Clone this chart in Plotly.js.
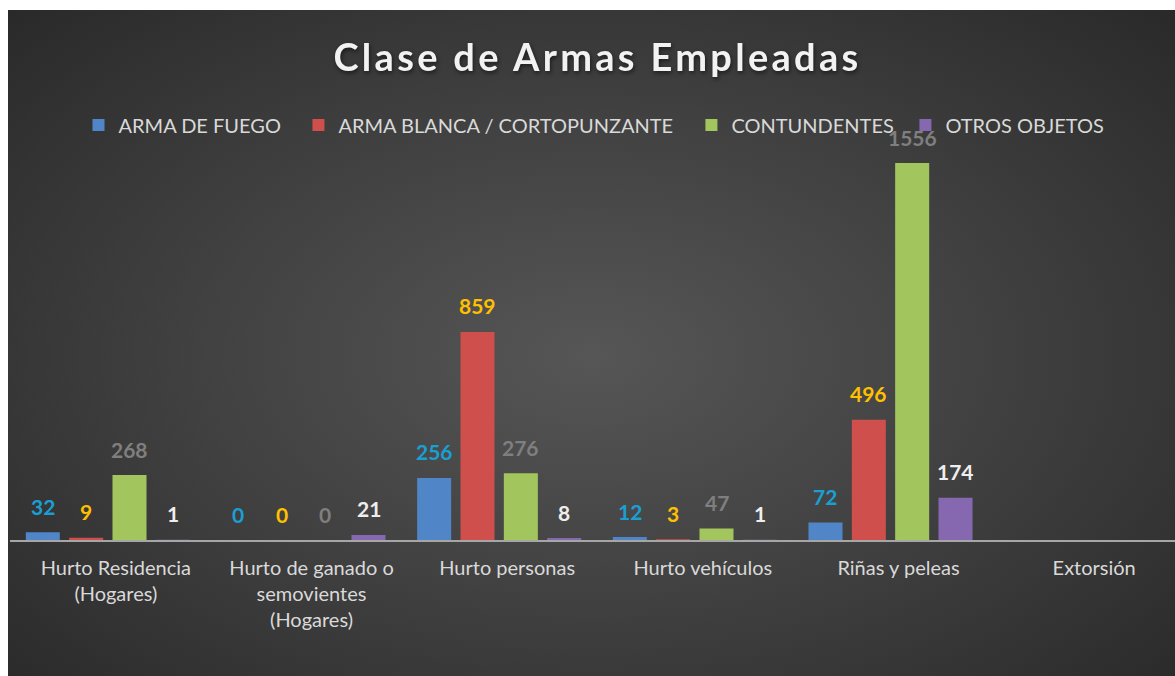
<!DOCTYPE html>
<html>
<head>
<meta charset="utf-8">
<script src="https://cdn.plot.ly/plotly-3.0.1.min.js"></script>
<style>
  html, body { margin: 0; padding: 0; background: #ffffff; overflow: hidden; }
  #bg { position: absolute; left: 8px; top: 10px; width: 1167px; height: 666px;
        background: radial-gradient(ellipse 75% 80% at 50% 52%, #565656 0%, #414141 45%, #262626 100%); }
  #chart { position: absolute; left: 0; top: 0; width: 1175px; height: 676px; }
  .gtitle { letter-spacing: 3.3px; filter: drop-shadow(1px 2px 2px rgba(0,0,0,0.55)); }
</style>
</head>
<body>
<div id="bg"></div>
<div id="chart"></div>
<script>
// ---- data ----
var categories = [
  "Hurto Residencia<br>(Hogares)",
  "Hurto de ganado o<br>semovientes<br>(Hogares)",
  "Hurto personas",
  "Hurto vehículos",
  "Riñas y peleas",
  "Extorsión"
];
var seriesNames = ["ARMA DE FUEGO", "ARMA BLANCA / CORTOPUNZANTE", "CONTUNDENTES", "OTROS OBJETOS"];
var armaFuego     = [32, 0, 256, 12, 72, null];
var armaBlanca    = [9, 0, 859, 3, 496, null];
var contundentes  = [268, 0, 276, 47, 1556, null];
var otrosObjetos  = [1, 21, 8, 1, 174, null];

// ---- styles ----
var barColors   = ["#5085c7", "#cf4f4c", "#a2c65d", "#8668b0"];
var labelColors = ["#1a9fd3", "#ffc000", "#7f7f7f", "#eeeeee"];
var legendIds   = ["legend", "legend2", "legend3", "legend4"];
var legendX     = [0.0588, 0.2476, 0.5849, 0.7686];
var bargap = 0.114, bargroupgap = 0.215;
var font = "Lato, 'Open Sans', sans-serif";

var seriesValues = [armaFuego, armaBlanca, contundentes, otrosObjetos];
var traces = seriesValues.map(function (vals, j) {
  return {
    type: "bar",
    name: seriesNames[j],
    legend: legendIds[j],
    x: categories,
    y: vals,
    marker: { color: barColors[j], line: { width: 0 } },
    hoverinfo: "skip"
  };
});

// value labels above bars
var groupWidth = 1 - bargap;
var slot = groupWidth / seriesValues.length;
var annotations = [];
seriesValues.forEach(function (vals, j) {
  vals.forEach(function (v, i) {
    if (v === null) return;
    annotations.push({
      x: i - groupWidth / 2 + slot * (j + 0.5),
      y: v,
      xref: "x", yref: "y",
      text: String(v),
      showarrow: false,
      yanchor: "middle",
      yshift: 26,
      font: { family: font, size: 21, color: labelColors[j], weight: "bold" }
    });
  });
});

var layout = {
  width: 1175, height: 676,
  paper_bgcolor: "rgba(0,0,0,0)",
  plot_bgcolor: "rgba(0,0,0,0)",
  margin: { l: 10, r: 0, t: 104, b: 136 },
  barmode: "group",
  bargap: bargap,
  bargroupgap: bargroupgap,
  title: {
    text: "<b>Clase de Armas Empleadas</b>",
    x: 0.5085, xanchor: "center",
    y: 0.914, yanchor: "middle",
    font: { family: font, size: 38, color: "#f2f2f2" }
  },
  showlegend: true,
  xaxis: {
    type: "category",
    range: [-0.5, 5.454],
    showline: true, linecolor: "#a6a6a6", linewidth: 2,
    showgrid: false, zeroline: false, ticks: "",
    ticklabelstandoff: 9,
    ticklabelshift: 8,
    tickfont: { family: font, size: 20, color: "#d9d9d9" },
    fixedrange: true
  },
  yaxis: {
    range: [0, 1800],
    showgrid: false, zeroline: false, showline: false,
    showticklabels: false, ticks: "",
    fixedrange: true
  },
  annotations: annotations
};
legendIds.forEach(function (id, j) {
  layout[id] = {
    orientation: "h",
    x: legendX[j], xanchor: "left",
    y: 0.952, yanchor: "middle",
    bgcolor: "rgba(0,0,0,0)",
    font: { family: font, size: 20, color: "#d9d9d9" }
  };
});

Plotly.newPlot("chart", traces, layout, { displayModeBar: false, staticPlot: true });
</script>
</body>
</html>
